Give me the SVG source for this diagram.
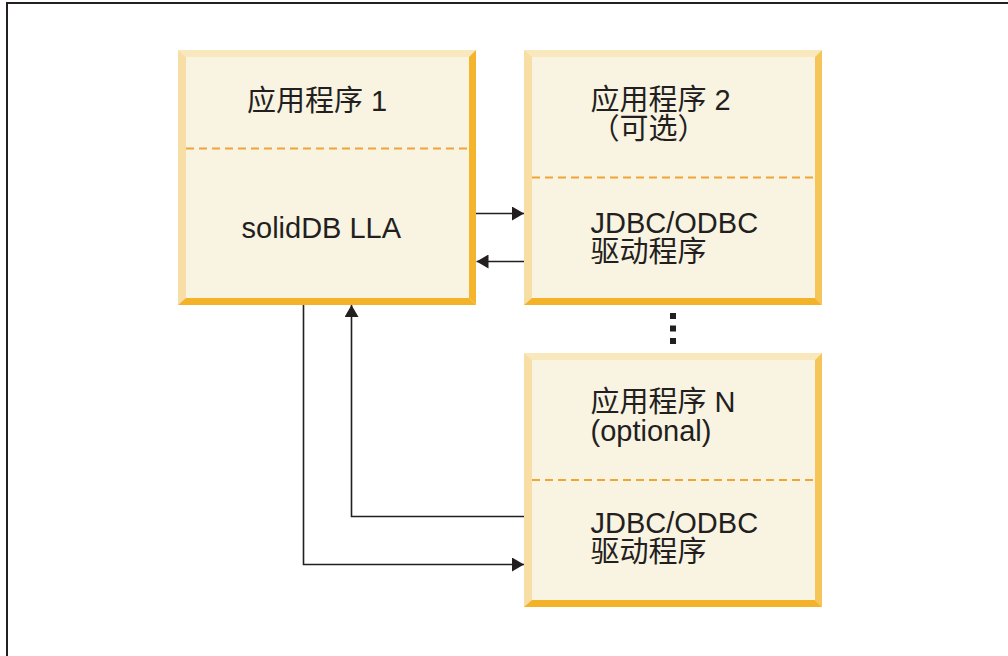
<svg xmlns="http://www.w3.org/2000/svg" width="1008" height="656" viewBox="0 0 1008 656">
<style>
.fill{fill:#f9f3e2}
.bt{fill:#f9e8bd}
.bl{fill:#f6dea4}
.br{fill:#f4b42c}
.br2{fill:#f5c557}
.bb{fill:#f3b227}
.dash{stroke:#f2a437;stroke-width:1.8;stroke-dasharray:8 5;fill:none}
.t{font-family:"Liberation Sans","Noto Sans CJK SC",sans-serif;font-size:29px;fill:#231f20}
.c{stroke:#231f20;stroke-width:1.6;fill:none}
</style>
<defs>
<marker id="ah" viewBox="0 0 12 14" refX="12" refY="7" markerWidth="12" markerHeight="14" markerUnits="userSpaceOnUse" orient="auto">
<path d="M0,0 L12,7 L0,14 Z" fill="#231f20"/>
</marker>
</defs>
<rect width="1008" height="656" fill="#ffffff"/>
<g id="frame">
<path d="M7,656 V3 H1008" fill="none" stroke="#231f20" stroke-width="2"/>
</g>
<g id="node-app1">
<rect class="fill" x="178" y="50" width="298" height="255"/>
<polygon class="bt" points="178,50 476,50 469,57 186,57"/>
<polygon class="bl" points="178,50 186,57 186,298 178,305"/>
<polygon class="br" points="476,50 476,305 469,298 469,57"/>
<polygon class="bb" points="178,305 186,298 469,298 476,305"/>
<line class="dash" x1="186" y1="148.5" x2="469" y2="148.5"/>
<text class="t" x="247" y="111">应用程序 1</text>
<text class="t" x="241.5" y="238">solidDB LLA</text>
</g>
<g id="node-app2">
<rect class="fill" x="524" y="50" width="298" height="255"/>
<polygon class="bt" points="524,50 822,50 815,57 532,57"/>
<polygon class="bl" points="524,50 532,57 532,298 524,305"/>
<polygon class="br2" points="822,50 822,305 815,298 815,57"/>
<polygon class="bb" points="524,305 532,298 815,298 822,305"/>
<line class="dash" x1="532" y1="177.5" x2="815" y2="177.5"/>
<text class="t" x="590.5" y="110">应用程序 2</text>
<text class="t" x="590.5" y="139">（可选）</text>
<text class="t" x="590.5" y="232.5">JDBC/ODBC</text>
<text class="t" x="590.5" y="261.5">驱动程序</text>
</g>
<g id="node-appN">
<rect class="fill" x="524" y="353" width="298" height="254"/>
<polygon class="bt" points="524,353 822,353 815,360 532,360"/>
<polygon class="bl" points="524,353 532,360 532,600 524,607"/>
<polygon class="br2" points="822,353 822,607 815,600 815,360"/>
<polygon class="bb" points="524,607 532,600 815,600 822,607"/>
<line class="dash" x1="532" y1="480" x2="815" y2="480"/>
<text class="t" x="590.5" y="411.5">应用程序 N</text>
<text class="t" x="590.5" y="440.5">(optional)</text>
<text class="t" x="590.5" y="533">JDBC/ODBC</text>
<text class="t" x="590.5" y="562">驱动程序</text>
</g>
<g id="ellipsis">
<rect x="670" y="313" width="6" height="6" fill="#231f20"/>
<rect x="670" y="325.5" width="6" height="6" fill="#231f20"/>
<rect x="670" y="338" width="6" height="6" fill="#231f20"/>
</g>
<g id="connectors">
<line class="c" x1="476" y1="213.5" x2="524" y2="213.5" marker-end="url(#ah)"/>
<line class="c" x1="524" y1="261.5" x2="476.5" y2="261.5" marker-end="url(#ah)"/>
<polyline class="c" points="303.5,305 303.5,564.5 524,564.5" marker-end="url(#ah)"/>
<polyline class="c" points="524,516.5 351.5,516.5 351.5,305" marker-end="url(#ah)"/>
</g>
</svg>
